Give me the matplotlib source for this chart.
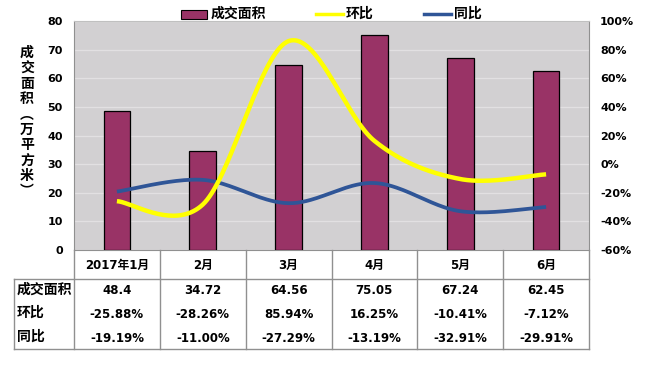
import matplotlib
matplotlib.use("Agg")
import matplotlib.pyplot as plt
import matplotlib.patches as mpatches
import numpy as np

plt.rcParams['font.family'] = ['DejaVu Sans', 'Noto Sans CJK SC']

months = ["2017年1月", "2月", "3月", "4月", "5月", "6月"]
area = [48.4, 34.72, 64.56, 75.05, 67.24, 62.45]
hb = [-25.88, -28.26, 85.94, 16.25, -10.41, -7.12]
tb = [-19.19, -11.00, -27.29, -13.19, -32.91, -29.91]
area_lbl = ["48.4", "34.72", "64.56", "75.05", "67.24", "62.45"]
hb_lbl = ["-25.88%", "-28.26%", "85.94%", "16.25%", "-10.41%", "-7.12%"]
tb_lbl = ["-19.19%", "-11.00%", "-27.29%", "-13.19%", "-32.91%", "-29.91%"]
row_names = ["成交面积", "环比", "同比"]
left_ticks = list(range(0, 90, 10))
right_ticks = list(range(-60, 120, 20))
ylabel_chars = ["成", "交", "面", "积", "︵", "万", "平", "方", "米", "︶"]

W, H = 649, 366
fig = plt.figure(figsize=(W / 100, H / 100), dpi=100)

def fx(px):
    return px / W

def fy(py):
    return 1 - py / H

L, R, T, B = 74, 589, 21, 250
ax = fig.add_axes([fx(L), fy(B), fx(R - L), (B - T) / H])
ax.set_facecolor('#D2D0D2')
x = np.arange(len(months))
ax.bar(x, area, width=0.31, color='#993366', edgecolor='black', linewidth=0.9, zorder=3)
ax.set_xlim(-0.5, len(months) - 0.5)
ax.set_ylim(0, 80)
ax.set_yticks(left_ticks)
ax.set_yticklabels([str(t) for t in left_ticks], fontsize=8, fontweight='bold')
ax.tick_params(axis='y', length=0, pad=8)
ax.set_xticks([])
ax.grid(axis='y', color='#E2E0E2', linewidth=0.9, zorder=0)
ax.set_axisbelow(True)
for s in ['left', 'right', 'top', 'bottom']:
    ax.spines[s].set_color('#909090')
ax.spines['top'].set_color('#C0C0C0')

ax2 = ax.twinx()
ax2.set_ylim(-60, 100)
ax2.set_yticks(right_ticks)
ax2.set_yticklabels([f"{t}%" for t in right_ticks], fontsize=8, fontweight='bold')
ax2.tick_params(axis='y', length=0, pad=8)
for s in ['left', 'right', 'top', 'bottom']:
    ax2.spines[s].set_visible(False)


def smooth(xs, ys, n=40):
    xs = np.asarray(xs, float)
    ys = np.asarray(ys, float)
    P = np.column_stack([xs, ys])
    P = np.vstack([P[0], P, P[-1]])
    out = []
    t = np.linspace(0, 1, n)
    for i in range(1, len(P) - 2):
        p0, p1, p2, p3 = P[i - 1], P[i], P[i + 1], P[i + 2]
        b0 = p1
        b1 = p1 + (p2 - p0) / 6
        b2 = p2 - (p3 - p1) / 6
        b3 = p2
        seg = ((1 - t) ** 3)[:, None] * b0 + (3 * (1 - t) ** 2 * t)[:, None] * b1 \
            + (3 * (1 - t) * t ** 2)[:, None] * b2 + (t ** 3)[:, None] * b3
        out.append(seg)
    S = np.vstack(out)
    return S[:, 0], S[:, 1]

sx, sy = smooth(x, hb)
ax2.plot(sx, sy, color='#FFFF00', linewidth=3.2, solid_capstyle='butt', zorder=5)
sx, sy = smooth(x, tb)
ax2.plot(sx, sy, color='#2F5597', linewidth=2.7, solid_capstyle='butt', zorder=4)

cjk_first = ['Noto Sans CJK SC', 'DejaVu Sans']

# y-axis label (stacked characters)
for i, ch in enumerate(ylabel_chars):
    fig.text(fx(27), fy(53 + i * 15.4), ch, ha='center', va='center', fontsize=10,
             fontweight='bold', family=cjk_first)

# legend
fig.patches.append(mpatches.Rectangle((fx(181), fy(19)), fx(26), 9 / H, transform=fig.transFigure,
                                      facecolor='#993366', edgecolor='black', linewidth=0.8))
fig.text(fx(211), fy(14), "成交面积", ha='left', va='center', fontsize=10, fontweight='bold',
         family=cjk_first)
fig.lines.append(plt.Line2D([fx(316), fx(343)], [fy(14), fy(14)], transform=fig.transFigure,
                            color='#FFFF00', linewidth=2.5))
fig.text(fx(346), fy(14), "环比", ha='left', va='center', fontsize=10, fontweight='bold',
         family=cjk_first)
fig.lines.append(plt.Line2D([fx(424), fx(451)], [fy(14), fy(14)], transform=fig.transFigure,
                            color='#2F5597', linewidth=2.5))
fig.text(fx(454), fy(14), "同比", ha='left', va='center', fontsize=10, fontweight='bold',
         family=cjk_first)

# table
gc = '#909090'
def hline(x0, x1, y):
    fig.lines.append(plt.Line2D([fx(x0), fx(x1)], [fy(y), fy(y)], transform=fig.transFigure, color=gc, linewidth=1.0))
def vline(xp, y0, y1):
    fig.lines.append(plt.Line2D([fx(xp), fx(xp)], [fy(y0), fy(y1)], transform=fig.transFigure, color=gc, linewidth=1.0))

colw = (R - L) / len(months)
hline(14, R, 279)
hline(14, R, 349)
vline(14, 279, 349)
for i in range(len(months) + 1):
    vline(L + i * colw, B, 349)

cjk = ['DejaVu Sans', 'Noto Sans CJK SC']
for i, m in enumerate(months):
    cx = L + (i + 0.5) * colw
    fig.text(fx(cx), fy(265), m, ha='center', va='center', fontsize=8.5, fontweight='bold', family=cjk)
    fig.text(fx(cx), fy(291), area_lbl[i], ha='center', va='center', fontsize=8.5, fontweight='bold')
    fig.text(fx(cx), fy(314), hb_lbl[i], ha='center', va='center', fontsize=8.5, fontweight='bold')
    fig.text(fx(cx), fy(338), tb_lbl[i], ha='center', va='center', fontsize=8.5, fontweight='bold')
for j, (name, yy) in enumerate(zip(row_names, [290, 313, 337])):
    fig.text(fx(17), fy(yy), name, ha='left', va='center', fontsize=10, fontweight='bold',
             family=cjk_first)

fig.savefig("out.png", dpi=100)
